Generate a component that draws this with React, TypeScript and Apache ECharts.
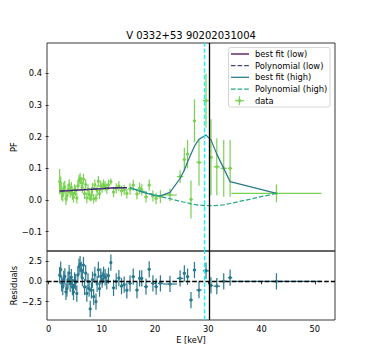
import React, { useEffect, useRef } from "react";
import * as echarts from "echarts";

const TITLE = "V 0332+53 90202031004";
const X_NAME = "E [keV]";
const Y_NAME = "PF";
const RES_NAME = "Residuals";

// Low-energy data (E < 15 keV)
const LOW_E = [2.08, 2.27, 2.46, 2.66, 2.85, 3.05, 3.26, 3.45, 3.66, 3.86, 4.06, 4.27, 4.47, 4.68, 4.88, 5.09, 5.3, 5.5, 5.71, 5.92, 6.13, 6.34, 6.55, 6.76, 6.97, 7.18, 7.4, 7.61, 7.82, 8.04, 8.25, 8.47, 8.69, 8.9, 9.12, 9.35, 9.57, 9.8, 10.05, 10.33, 10.62, 10.93, 11.25, 11.7, 12.2, 12.7, 13.2, 13.7, 14.2, 14.7];
const LOW_XERR = [0.09, 0.1, 0.1, 0.1, 0.1, 0.1, 0.1, 0.1, 0.1, 0.1, 0.1, 0.1, 0.1, 0.1, 0.1, 0.1, 0.1, 0.1, 0.1, 0.1, 0.1, 0.1, 0.1, 0.1, 0.1, 0.1, 0.1, 0.1, 0.1, 0.1, 0.1, 0.1, 0.1, 0.1, 0.11, 0.11, 0.11, 0.12, 0.13, 0.14, 0.15, 0.15, 0.17, 0.22, 0.25, 0.25, 0.25, 0.25, 0.25, 0.25];
const LOW_PF = [0.058, 0.052, 0.023, 0.015, 0.036, 0.041, 0.004, 0.013, 0.033, 0.048, 0.025, 0.039, 0.018, 0.009, 0.033, 0.029, 0.006, 0.045, 0.062, 0.068, 0.056, 0.039, 0.066, 0.02, 0.049, 0.007, 0.033, 0.018, 0.005, 0.015, 0.037, 0.004, 0.048, 0.006, 0.03, 0.059, 0.02, 0.045, 0.039, 0.049, 0.044, 0.036, 0.048, 0.058, 0.025, 0.037, 0.044, 0.029, 0.032, 0.021];
const LOW_ERR = [0.04, 0.022, 0.024, 0.02, 0.02, 0.02, 0.02, 0.018, 0.018, 0.018, 0.018, 0.018, 0.017, 0.017, 0.017, 0.017, 0.017, 0.017, 0.017, 0.017, 0.017, 0.017, 0.017, 0.017, 0.017, 0.017, 0.017, 0.017, 0.009, 0.017, 0.017, 0.015, 0.017, 0.012, 0.017, 0.017, 0.017, 0.017, 0.016, 0.016, 0.016, 0.016, 0.016, 0.01, 0.016, 0.016, 0.016, 0.016, 0.016, 0.016];
const LOW_RES = [0.75, 1.45, -0.25, -0.7, 0.3, 0.6, -1.3, -0.9, 0.2, 1.0, -0.3, 0.5, -0.7, -1.3, 0.1, -0.1, -1.5, 0.8, 1.8, 2.1, 1.4, 0.4, 2.0, -0.7, 1.0, -1.5, 0.0, -0.9, -3.4, -1.1, 0.2, -1.9, 0.8, -2.5, -0.3, 1.4, -0.9, 0.6, 0.2, 0.8, 0.5, 0.0, 0.7, 2.3, -0.8, 0.0, 0.4, -0.6, -0.4, -1.1];

// High-energy data (E >= 15 keV)
const HIGH_E = [15.3, 15.9, 16.6, 17.1, 17.5, 18.3, 18.9, 19.6, 20.2, 21.0, 22.8, 24.7, 25.5, 26.1, 26.75, 27.4, 28.25, 29.57, 30.5, 31.6, 32.9, 34.1, 42.8];
const HIGH_XERR = [0.3, 0.3, 0.3, 0.25, 0.25, 0.35, 0.3, 0.35, 0.3, 0.5, 1.3, 0.6, 0.3, 0.3, 0.3, 0.3, 0.5, 0.6, 0.4, 0.6, 0.6, 0.4, 8.45];
const HIGH_PF = [0.035, 0.047, 0.019, 0.037, 0.032, 0.01, 0.047, 0.013, 0.005, 0.011, 0.016, 0.074, 0.128, 0.145, 0.002, 0.25, 0.119, 0.314, 0.135, 0.105, 0.1, 0.1, 0.021];
const HIGH_ERR = [0.018, 0.017, 0.017, 0.018, 0.018, 0.018, 0.018, 0.018, 0.018, 0.02, 0.02, 0.02, 0.037, 0.045, 0.06, 0.068, 0.074, 0.085, 0.12, 0.09, 0.09, 0.09, 0.028];
const HIGH_RES = [-0.25, 0.57, -1.08, 0.36, 0.36, -0.66, 1.48, -0.25, -0.66, -0.25, -0.33, 0.36, 0.98, 0.57, -2.3, 1.39, -1.08, 1.3, -0.5, -0.6, 0.0, 0.45, 0.0];
const RES_ERR = 1.0;

// Fits
const FIT_LOW_E = [2.08, 4.0, 6.0, 8.0, 10.0, 12.0, 14.7];
const FIT_LOW_PF = [0.028, 0.03, 0.032, 0.034, 0.036, 0.038, 0.039];
const POLY_LOW_PF = [0.0282, 0.0302, 0.0322, 0.0342, 0.0361, 0.0377, 0.0388];
const FIT_HIGH_PF = [0.039, 0.035, 0.031, 0.028, 0.026, 0.022, 0.019, 0.016, 0.014, 0.013, 0.024, 0.068, 0.095, 0.12, 0.145, 0.17, 0.192, 0.205, 0.19, 0.145, 0.1, 0.058, 0.021];
const POLY_HIGH_PF = [0.039, 0.036, 0.032, 0.03, 0.028, 0.024, 0.021, 0.018, 0.015, 0.011, 0.004, -0.004, -0.007, -0.009, -0.012, -0.014, -0.016, -0.018, -0.018, -0.017, -0.015, -0.011, 0.021];

const CYAN_E = 29.25;
const BLACK_E = 30.26;

const PF_TICKS = [-0.1, 0, 0.1, 0.2, 0.3, 0.4];
const RES_TICKS = [-2.5, 0, 2.5];
const E_TICKS = [0, 10, 20, 30, 40, 50];

const C = ["#440154", "#414487", "#2a788e", "#22a884", "#7ad151"];
const FONT = "DejaVu Sans";
const FS = 8.3;

function errRender(color: string) {
  return (params: any, api: any) => {
    const x = api.value(0), y = api.value(1), xe = api.value(2), ye = api.value(3);
    const p = api.coord([x, y]);
    const l = api.coord([x - xe, y]);
    const r = api.coord([x + xe, y]);
    const t = api.coord([x, y + ye]);
    const b = api.coord([x, y - ye]);
    const st = { stroke: color, lineWidth: 1.2 };
    return {
      type: "group",
      children: [
        { type: "line", shape: { x1: l[0], y1: l[1], x2: r[0], y2: r[1] }, style: st },
        { type: "line", shape: { x1: t[0], y1: t[1], x2: b[0], y2: b[1] }, style: st },
        { type: "circle", shape: { cx: p[0], cy: p[1], r: 1.6 }, style: { fill: color } },
      ],
    };
  };
}

const fmt = (v: number) => v.toFixed(1).replace("-", "\u2212");

export default function App() {
  const ref = useRef<HTMLDivElement>(null);
  useEffect(() => {
    if (!ref.current) return;
    const chart = echarts.init(ref.current, null, { renderer: "svg" });
    const dataRows = [
      ...LOW_E.map((e, i) => [e, LOW_PF[i], LOW_XERR[i], LOW_ERR[i]]),
      ...HIGH_E.map((e, i) => [e, HIGH_PF[i], HIGH_XERR[i], HIGH_ERR[i]]),
    ];
    const resRows = [
      ...LOW_E.map((e, i) => [e, LOW_RES[i], LOW_XERR[i], RES_ERR]),
      ...HIGH_E.map((e, i) => [e, HIGH_RES[i], HIGH_XERR[i], RES_ERR]),
    ];
    const dash = [4.6, 2];
    const axisText = { color: "#000", fontFamily: FONT, fontSize: FS };
    const legendY = [54, 65.7, 77.3, 89, 100.7];
    const legendNames = ["best fit (low)", "Polynomial (low)", "best fit (high)", "Polynomial (high)", "data"];
    const textFont = `${FS}px "${FONT}"`;
    const graphics: any[] = [
      {
        type: "text", x: 191, y: 35.5,
        style: { text: TITLE, fill: "#000", font: `10px "${FONT}"`, align: "center", verticalAlign: "middle" },
      },
      {
        type: "text", x: 191, y: 340,
        style: { text: X_NAME, fill: "#000", font: textFont, align: "center", verticalAlign: "middle" },
      },
      {
        type: "text", x: 13.5, y: 147, rotation: Math.PI / 2,
        style: { text: Y_NAME, fill: "#000", font: textFont, align: "center", verticalAlign: "middle" },
      },
      {
        type: "text", x: 13.5, y: 285.5, rotation: Math.PI / 2,
        style: { text: RES_NAME, fill: "#000", font: textFont, align: "center", verticalAlign: "middle" },
      },
      {
        type: "rect", z: 100,
        shape: { x: 228.5, y: 47.5, width: 101.5, height: 59.5, r: 2 },
        style: { fill: "rgba(255,255,255,0.8)", stroke: "#cccccc", lineWidth: 0.8 },
      },
    ];
    legendNames.forEach((n, i) => {
      const y = legendY[i];
      if (i < 4) {
        graphics.push({
          type: "line", z: 101,
          shape: { x1: 231, y1: y, x2: 249, y2: y },
          style: { stroke: C[i], lineWidth: 1.25, lineDash: i % 2 === 1 ? dash : null },
        });
      } else {
        graphics.push({ type: "line", z: 101, shape: { x1: 235, y1: y, x2: 244, y2: y }, style: { stroke: C[4], lineWidth: 1.2 } });
        graphics.push({ type: "line", z: 101, shape: { x1: 239.5, y1: y - 4.5, x2: 239.5, y2: y + 4.5 }, style: { stroke: C[4], lineWidth: 1.2 } });
        graphics.push({ type: "circle", z: 101, shape: { cx: 239.5, cy: y, r: 1.6 }, style: { fill: C[4] } });
      }
      graphics.push({
        type: "text", z: 101, x: 255, y: y,
        style: { text: n, fill: "#000", font: textFont, align: "left", verticalAlign: "middle" },
      });
    });

    const gridBase = {
      left: 47, width: 288, show: true, borderColor: "#222", borderWidth: 0.9,
      backgroundColor: "transparent", containLabel: false, outerBoundsMode: "none",
    };

    const option: any = {
      animation: false,
      backgroundColor: "#fff",
      grid: [
        { ...gridBase, top: 43, height: 208 },
        { ...gridBase, top: 251, height: 69 },
      ],
      xAxis: [
        {
          gridIndex: 0, type: "value", min: -0.3, max: 53.8,
          axisLine: { show: false }, axisTick: { show: false }, axisLabel: { show: false }, splitLine: { show: false },
        },
        {
          gridIndex: 1, type: "value", min: -0.3, max: 53.8,
          axisLine: { show: false },
          axisTick: { show: true, length: 3, lineStyle: { color: "#222", width: 0.9 }, customValues: E_TICKS },
          axisLabel: { ...axisText, margin: 5, customValues: E_TICKS, formatter: (v: number) => String(v) },
          splitLine: { show: false },
        },
      ],
      yAxis: [
        {
          gridIndex: 0, type: "value", min: -0.161, max: 0.496,
          axisLine: { show: false },
          axisTick: { show: true, length: 3, lineStyle: { color: "#222", width: 0.9 }, customValues: PF_TICKS },
          axisLabel: { ...axisText, margin: 5, customValues: PF_TICKS, formatter: fmt },
          splitLine: { show: false },
        },
        {
          gridIndex: 1, type: "value", min: -4.76, max: 3.73,
          axisLine: { show: false },
          axisTick: { show: true, length: 3, lineStyle: { color: "#222", width: 0.9 }, customValues: RES_TICKS },
          axisLabel: { ...axisText, margin: 5, customValues: RES_TICKS, formatter: fmt },
          splitLine: { show: false },
        },
      ],
      series: [
        {
          type: "custom", name: "data", xAxisIndex: 0, yAxisIndex: 0,
          renderItem: errRender(C[4]), data: dataRows, encode: { x: 0, y: 1 }, z: 2,
        },
        {
          type: "line", name: "best fit (low)", xAxisIndex: 0, yAxisIndex: 0, symbol: "none", z: 3,
          data: FIT_LOW_E.map((e, i) => [e, FIT_LOW_PF[i]]), lineStyle: { color: C[0], width: 1.25 },
        },
        {
          type: "line", name: "Polynomial (low)", xAxisIndex: 0, yAxisIndex: 0, symbol: "none", z: 3,
          data: FIT_LOW_E.map((e, i) => [e, POLY_LOW_PF[i]]), lineStyle: { color: C[1], width: 1.25, type: dash },
        },
        {
          type: "line", name: "best fit (high)", xAxisIndex: 0, yAxisIndex: 0, symbol: "none", z: 3,
          data: HIGH_E.map((e, i) => [e, FIT_HIGH_PF[i]]), lineStyle: { color: C[2], width: 1.25 },
        },
        {
          type: "line", name: "Polynomial (high)", xAxisIndex: 0, yAxisIndex: 0, symbol: "none", z: 3,
          data: HIGH_E.map((e, i) => [e, POLY_HIGH_PF[i]]), lineStyle: { color: C[3], width: 1.25, type: dash },
          markLine: {
            silent: true, symbol: ["none", "none"], label: { show: false },
            data: [
              { xAxis: CYAN_E, lineStyle: { color: "#00ffff", width: 1.3, type: dash } },
              { xAxis: BLACK_E, lineStyle: { color: "#000", width: 1.3, type: "solid" } },
            ],
          },
        },
        {
          type: "custom", name: "residuals", xAxisIndex: 1, yAxisIndex: 1, z: 2,
          renderItem: errRender(C[2]), data: resRows, encode: { x: 0, y: 1 },
        },
        {
          type: "line", name: "vlines", xAxisIndex: 1, yAxisIndex: 1, symbol: "none", data: [], z: 4,
          markLine: {
            silent: true, symbol: ["none", "none"], label: { show: false },
            data: [
              { xAxis: CYAN_E, lineStyle: { color: "#00ffff", width: 1.3, type: dash } },
              { xAxis: BLACK_E, lineStyle: { color: "#000", width: 1.3, type: "solid" } },
              { yAxis: 0, lineStyle: { color: "#000", width: 1.3, type: dash } },
            ],
          },
        },
      ],
      graphic: graphics,
    };
    chart.setOption(option);
    return () => chart.dispose();
  }, []);
  return <div ref={ref} style={{ position: "absolute", left: 0, top: 0, width: 372, height: 360 }} />;
}
